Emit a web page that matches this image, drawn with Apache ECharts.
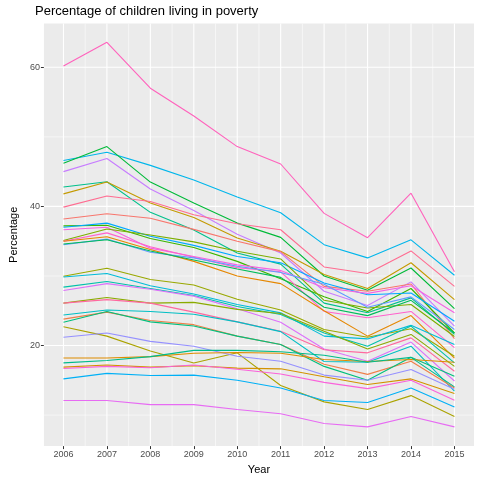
<!DOCTYPE html>
<html>
<head>
<meta charset="utf-8">
<script src="https://cdn.jsdelivr.net/npm/echarts@6/dist/echarts.min.js"></script>
<style>
  html, body { margin: 0; padding: 0; background: #fff; }
  #chart { width: 480px; height: 480px; }
</style>
</head>
<body>
<div id="chart"></div>
<script>
// years on the x axis, tick values on the y axis
const years = [2006, 2007, 2008, 2009, 2010, 2011, 2012, 2013, 2014, 2015];
const yTicks = [20, 40, 60];
const yMinorTicks = [10, 30, 50];
const xMinorTicks = [2006.5, 2007.5, 2008.5, 2009.5, 2010.5, 2011.5, 2012.5, 2013.5, 2014.5];
const xRange = [2005.55, 2015.45];
const yRange = [5.54, 66.3];

// percentage of children in poverty, one array per line
const pinkTop      = [60.2, 63.6, 57.0, 53.0, 48.6, 46.1, 39.0, 35.5, 41.9, 30.6];
const cyanTop      = [46.6, 47.8, 45.9, 43.8, 41.35, 39.1, 34.5, 32.6, 35.2, 30.1];
const greenTop     = [46.2, 48.6, 43.5, 40.5, 37.6, 35.55, 30.0, 27.95, 31.15, 25.3];
const purpleTop    = [45.0, 46.9, 42.5, 39.4, 36.0, 33.3, 27.8, 25.75, 29.15, 22.8];
const tealGreen    = [42.8, 43.55, 39.15, 36.6, 33.3, 31.7, 26.1, 24.7, 26.85, 21.6];
const gold         = [41.8, 43.5, 40.5, 38.4, 35.45, 33.55, 30.2, 28.2, 31.9, 26.6];
const pinkTwo      = [39.9, 41.5, 40.7, 38.8, 37.5, 36.65, 31.3, 30.35, 33.6, 28.5];
const salmon       = [38.2, 38.95, 38.3, 36.7, 35.0, 33.5, 28.5, 27.8, 28.85, 21.0];
const greenTwo     = [37.2, 37.3, 35.4, 34.1, 32.1, 29.6, 27.0, 24.9, 28.2, 21.8];
const blueCyan     = [37.0, 37.6, 35.7, 34.4, 32.8, 31.9, 29.0, 27.3, 27.55, 23.5];
const magenta      = [36.65, 37.0, 34.0, 32.8, 31.6, 30.8, 28.3, 27.5, 28.6, 24.7];
const oliveGreen   = [35.1, 36.75, 35.9, 34.9, 33.55, 32.45, 26.5, 25.4, 25.9, 21.3];
const pinkB        = [35.0, 36.2, 34.2, 32.7, 31.2, 30.6, 24.9, 24.0, 24.9, 19.7];
const orange       = [35.0, 35.65, 33.8, 32.1, 30.0, 28.9, 25.0, 21.35, 24.3, 18.2];
const blue         = [34.5, 35.3, 33.4, 32.6, 31.4, 30.5, 28.8, 25.5, 27.0, 22.3];
const greenThree   = [34.6, 35.2, 33.6, 32.3, 31.0, 29.8, 25.5, 24.3, 26.5, 21.8];
const oliveTwo     = [29.95, 31.1, 29.5, 28.7, 26.65, 25.1, 22.3, 21.2, 22.4, 18.45];
const cyanTwo      = [29.86, 30.35, 28.6, 27.4, 25.9, 24.7, 21.35, 20.95, 22.9, 20.15];
const teal         = [28.4, 29.2, 28.2, 27.2, 25.6, 24.45, 21.8, 19.9, 22.8, 17.5];
const violet       = [27.9, 28.9, 28.1, 27.1, 25.3, 23.35, 19.5, 17.75, 20.5, 14.9];
const oliveGreenB  = [26.1, 26.9, 26.1, 26.2, 25.2, 24.6, 22.05, 19.5, 21.6, 17.0];
const pinkThree    = [26.1, 26.6, 26.1, 24.8, 23.4, 22.05, 19.4, 18.95, 21.1, 16.3];
const tealTwo      = [24.4, 25.1, 24.9, 24.5, 23.4, 22.0, 17.7, 17.6, 19.9, 13.45];
const salmonOrange = [23.8, 24.8, 23.6, 23.0, 21.35, 20.15, 17.3, 15.85, 17.75, 13.9];
const greenTeal    = [23.35, 24.9, 23.4, 22.8, 21.35, 20.15, 17.0, 15.0, 18.3, 15.6];
const olive        = [22.7, 21.35, 19.2, 17.5, 18.95, 14.25, 11.9, 10.8, 12.8, 9.8];
const lavender     = [21.2, 21.8, 20.6, 19.9, 18.45, 17.75, 15.75, 15.0, 16.55, 13.7];
const orangeTwo    = [18.2, 18.2, 18.4, 18.9, 19.0, 18.9, 18.0, 17.7, 18.0, 17.6];
const tealGreenTwo = [17.5, 17.85, 18.4, 19.3, 19.3, 19.1, 18.6, 17.6, 18.3, 14.05];
const goldTwo      = [16.9, 17.2, 16.9, 17.1, 16.75, 16.65, 15.5, 14.4, 15.2, 13.1];
const pinkFour     = [16.7, 17.0, 16.8, 17.2, 16.6, 15.9, 14.7, 13.8, 15.0, 12.15];
const blueTwo      = [15.2, 16.0, 15.7, 15.75, 15.0, 13.9, 12.1, 11.8, 13.9, 11.15];
const violetTwo    = [12.1, 12.1, 11.5, 11.5, 10.8, 10.2, 8.8, 8.3, 9.8, 8.3];

const lines = [
    [pinkTop, '#FF62BC'], [cyanTop, '#00B6EB'], [greenTop, '#00BA38'], [purpleTop, '#C77CFF'],
    [tealGreen, '#00C08B'], [gold, '#C49A00'], [pinkTwo, '#FF6C91'], [salmon, '#F8766D'],
    [greenTwo, '#39B600'], [blueCyan, '#00A9FF'], [magenta, '#F564E3'], [oliveGreen, '#7CAE00'],
    [pinkB, '#FF61CC'], [orange, '#E58700'], [blue, '#619CFF'], [greenThree, '#00BC59'],
    [oliveTwo, '#99A800'], [cyanTwo, '#00BCD8'], [teal, '#00C1AA'], [violet, '#DC71FA'],
    [oliveGreenB, '#8AAB00'], [pinkThree, '#FF689F'], [tealTwo, '#00BFC4'], [salmonOrange, '#EF7F49'],
    [greenTeal, '#00BF7D'], [olive, '#ABA300'], [lavender, '#9590FF'], [orangeTwo, '#DE8C00'],
    [tealGreenTwo, '#00BB8A'], [goldTwo, '#D29200'], [pinkFour, '#FA62DB'], [blueTwo, '#00B0F6'],
    [violetTwo, '#E76BF3']
];

const font = 'Liberation Sans, Arimo, Helvetica, Arial, sans-serif';

// ggplot-like panel grid, each grid line is a plain line series
let series = [];
function gridSeries(points, width) {
    series.push({
        type: 'line',
        z: 1,
        silent: true,
        symbol: 'none',
        lineStyle: { color: '#FFFFFF', width: width },
        data: points
    });
}
xMinorTicks.forEach(v => gridSeries([[v, yRange[0]], [v, yRange[1]]], 0.55));
yMinorTicks.forEach(v => gridSeries([[xRange[0], v], [xRange[1], v]], 0.55));
years.forEach(v => gridSeries([[v, yRange[0]], [v, yRange[1]]], 1.1));
yTicks.forEach(v => gridSeries([[xRange[0], v], [xRange[1], v]], 1.1));

lines.forEach((l, i) => {
    series.push({
        name: 'line' + i,
        type: 'line',
        z: 2,
        symbol: 'none',
        lineStyle: { color: l[1], width: 1.1 },
        data: years.map((y, k) => [y, l[0][k]])
    });
});

const chart = echarts.init(document.getElementById('chart'), null, { renderer: 'canvas' });
chart.setOption({
    animation: false,
    backgroundColor: '#FFFFFF',
    title: {
        text: 'Percentage of children living in poverty',
        left: 35,
        top: 5,
        padding: 0,
        textStyle: { fontFamily: font, fontSize: 13, fontWeight: 'normal', color: '#000' }
    },
    grid: {
        left: 34, right: 6, top: 23.5, bottom: 33.3,
        show: true, backgroundColor: '#EBEBEB', borderWidth: 0
    },
    xAxis: {
        type: 'value',
        min: xRange[0],
        max: xRange[1],
        name: 'Year',
        nameLocation: 'middle',
        nameGap: 17,
        nameTextStyle: { fontFamily: font, fontSize: 11, color: '#000' },
        axisLine: { show: false },
        axisTick: { show: true, length: 3, lineStyle: { color: '#333333' }, customValues: years },
        axisLabel: {
            fontFamily: font, fontSize: 9, color: '#4D4D4D', margin: 4,
            customValues: years, formatter: v => String(v)
        },
        splitLine: { show: false }
    },
    yAxis: {
        type: 'value',
        min: yRange[0],
        max: yRange[1],
        name: 'Percentage',
        nameLocation: 'middle',
        nameRotate: 90,
        nameGap: 22,
        nameTextStyle: { fontFamily: font, fontSize: 11, color: '#000' },
        axisLine: { show: false },
        axisTick: { show: true, length: 3, lineStyle: { color: '#333333' }, customValues: yTicks },
        axisLabel: {
            fontFamily: font, fontSize: 9, color: '#4D4D4D', margin: 4,
            customValues: yTicks, formatter: v => String(v)
        },
        splitLine: { show: false }
    },
    series: series
});
</script>
</body>
</html>
